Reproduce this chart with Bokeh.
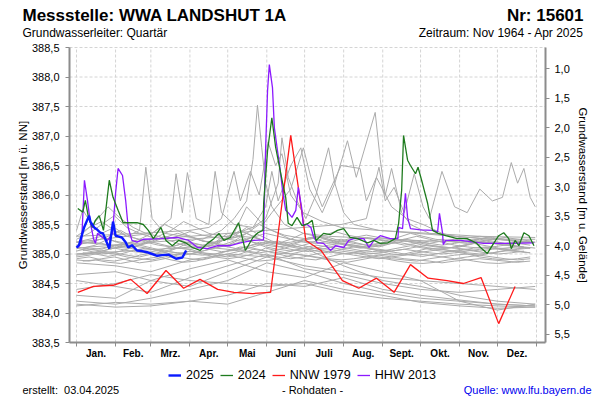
from bokeh.plotting import figure
from bokeh.models import (Range1d, LinearAxis, FixedTicker, CustomJSTickFormatter,
                          Legend, LegendItem, Label)
from bokeh.embed import file_html
from bokeh.resources import INLINE

FONT = "Liberation Sans"

# ---------------- data ----------------
month_bounds = [0, 31, 59, 90, 120, 151, 181, 212, 243, 273, 304, 334, 365]
month_labels = ["Jan.", "Feb.", "Mrz.", "Apr.", "Mai", "Juni", "Juli", "Aug.",
                "Sept.", "Okt.", "Nov.", "Dez."]
left_ticks = [383.5, 384.0, 384.5, 385.0, 385.5, 386.0, 386.5, 387.0, 387.5, 388.0, 388.5]
right_ticks = [1.0, 1.5, 2.0, 2.5, 3.0, 3.5, 4.0, 4.5, 5.0, 5.5]
y_min, y_max = 383.5, 388.5
gelaende = 389.14  # ground level (m ü. NN)

title_left = "Messstelle: WWA LANDSHUT 1A"
title_right = "Nr: 15601"
sub_left = "Grundwasserleiter: Quartär"
sub_right = "Zeitraum: Nov 1964 - Apr 2025"
foot_left = "erstellt:\u00a0 03.04.2025"
foot_mid = "- Rohdaten -"
foot_right = "Quelle: www.lfu.bayern.de"

# 2025
d2025 = [0, 2, 6, 10, 11, 14, 16, 19, 21, 23, 26, 29, 31, 33, 36, 39, 41, 44, 48, 52,
         56, 60, 64, 68, 73, 79, 84, 87]
v2025 = [385.11, 385.15, 385.45, 385.65, 385.55, 385.45, 385.42, 385.36, 385.35, 385.25,
         385.09, 385.55, 385.31, 385.30, 385.28, 385.20, 385.11, 385.15, 385.06, 385.05,
         385.03, 385.00, 384.97, 384.98, 384.99, 384.92, 384.94, 385.06]

# 2024
d2024 = [1, 5, 7, 9.5, 12.7, 15, 18, 21.4, 26, 29, 33, 37, 43, 48, 53, 57, 61, 67, 71, 76,
         81, 86.5, 92, 98, 104, 109, 113, 117, 122, 128.6, 134, 140, 144, 148, 148.5, 151.6,
         155, 158, 160, 163.5, 166, 168, 171, 175, 179, 184, 187, 190, 196, 201.6, 207, 212,
         217, 223, 231, 236, 241, 247, 253, 255.6, 258, 259.5, 262.7, 265, 269, 271, 274.6,
         278.6, 282.5, 287, 293, 302, 310, 317, 320.6, 326, 331, 335, 339, 343, 345, 348,
         351, 355, 359, 363]
v2024 = [385.77, 385.71, 385.91, 385.62, 385.45, 385.57, 385.65, 385.40, 386.25, 385.96,
         385.74, 385.53, 385.53, 385.53, 385.50, 385.40, 385.26, 385.45, 385.23, 385.14,
         385.23, 385.19, 385.11, 385.06, 385.18, 385.26, 385.35, 385.23, 385.28, 385.53,
         385.06, 385.28, 385.36, 385.40, 385.86, 386.75, 387.31, 386.81, 386.59, 386.21,
         385.96, 385.52, 385.48, 385.62, 385.48, 385.52, 385.57, 385.23, 385.35, 385.33,
         385.40, 385.43, 385.28, 385.26, 385.19, 385.23, 385.18, 385.19, 385.26, 385.52,
         386.08, 387.01, 386.59, 386.50, 386.36, 386.47, 386.19, 385.86, 385.40, 385.35,
         385.31, 385.26, 385.26, 385.19, 385.11, 385.01, 385.18, 385.31, 385.36, 385.26,
         385.09, 385.23, 385.14, 385.36, 385.31, 385.14]

# HHW 2013
d2013 = [1, 4, 6.3, 8.7, 11, 13.5, 15, 16.7, 20.6, 24.6, 28.6, 31, 33, 36.5, 39, 41, 44,
         48, 53, 67, 80, 89, 96, 104, 112, 122, 130, 140, 148.4, 150, 151.6, 153, 155.5,
         157, 159.5, 161, 163.5, 166, 168, 171, 174, 176, 178.6, 180, 183, 186, 188, 191,
         196, 201.6, 205.5, 212, 216, 220, 228, 232, 236, 241, 249, 255, 255.6, 258.7, 261,
         262.7, 265, 273, 283, 286.5, 288, 290.5, 291, 293, 305, 323, 342, 363]
v2013 = [385.11, 385.18, 386.25, 385.91, 385.53, 385.26, 385.18, 385.35, 385.28, 385.23,
         385.35, 386.03, 386.45, 386.33, 385.91, 385.45, 385.23, 385.20, 385.25, 385.26,
         385.28, 385.23, 385.11, 385.09, 385.14, 385.14, 385.19, 385.23, 385.24, 386.75,
         387.77, 388.21, 387.82, 387.14, 386.75, 386.53, 386.08, 385.74, 385.70, 385.62,
         385.74, 386.13, 385.79, 385.48, 385.50, 385.45, 385.30, 385.19, 385.18, 385.06,
         385.14, 385.11, 385.23, 385.26, 385.26, 385.11, 385.23, 385.31, 385.26, 385.26,
         385.45, 385.43, 386.03, 385.62, 385.43, 385.41, 385.40, 385.37, 385.69, 385.35,
         385.16, 385.23, 385.23, 385.18, 385.18, 385.19]

# NNW 1979
d1979 = [1, 13.5, 29, 43, 56, 71, 85, 98, 112, 125, 140, 154, 170, 176, 182, 194, 211,
         224, 238, 252, 265, 279, 294, 307, 321, 335, 348]
v1979 = [384.35, 384.45, 384.47, 384.57, 384.33, 384.72, 384.42, 384.57, 384.40, 384.35,
         384.33, 384.35, 387.01, 386.13, 385.23, 385.06, 384.55, 384.42, 384.59, 384.35,
         384.82, 384.59, 384.55, 384.50, 384.60, 383.82, 384.45]

# --- other years (grey) ---
grid_month = [0, 31, 59, 90, 120, 151, 181, 212, 243, 273, 304, 334, 364]
low_a = [384.20, 384.15, 384.25, 384.40, 384.55, 384.85, 384.70, 384.50, 384.35, 384.25, 384.20, 384.15, 384.12]
low_b = [384.12, 384.18, 384.15, 384.20, 384.30, 384.50, 384.45, 384.60, 384.40, 384.30, 384.22, 384.15, 384.12]
low_c = [384.30, 384.25, 384.55, 384.45, 384.70, 384.95, 385.10, 384.80, 384.55, 384.45, 384.30, 384.20, 384.15]
low_d = [384.55, 384.45, 384.35, 384.60, 384.80, 385.00, 384.75, 384.65, 384.50, 384.40, 384.35, 384.40, 384.45]
low_e = [384.15, 384.10, 384.12, 384.20, 384.15, 384.35, 384.55, 384.40, 384.30, 384.18, 384.12, 384.08, 384.10]
low_f = [384.65, 384.70, 384.55, 384.75, 384.90, 384.70, 384.60, 384.85, 384.70, 384.55, 384.50, 384.45, 384.40]
low_g = [384.40, 384.50, 384.65, 384.55, 384.50, 384.45, 384.50, 384.35, 384.25, 384.20, 384.15, 384.12, 384.10]
low_h = [384.85, 384.80, 384.70, 384.90, 385.00, 384.95, 384.80, 384.70, 384.60, 384.55, 384.20, 384.05, 384.15]

grid_10 = [0, 10, 20, 30, 40, 50, 60, 70, 80, 90, 100, 110, 120, 130, 140, 150, 160, 170,
           180, 190, 200, 210, 220, 230, 240, 250, 260, 270, 280, 290, 300, 310, 320, 330,
           340, 350, 360]
band_a = [385.05, 385.10, 385.08, 385.15, 385.12, 385.05, 385.00, 385.02, 385.10, 385.20, 385.15, 385.10, 385.08, 385.05, 385.12, 385.18, 385.22, 385.15, 385.10, 385.05, 385.02, 385.08, 385.12, 385.10, 385.05, 385.00, 384.98, 385.02, 385.05, 385.08, 385.04, 385.00, 384.98, 385.02, 385.06, 385.04, 385.02]
band_b = [385.20, 385.25, 385.30, 385.22, 385.18, 385.15, 385.20, 385.28, 385.35, 385.30, 385.22, 385.18, 385.15, 385.20, 385.30, 385.45, 385.35, 385.25, 385.20, 385.18, 385.22, 385.25, 385.20, 385.15, 385.12, 385.18, 385.22, 385.20, 385.15, 385.12, 385.10, 385.15, 385.20, 385.18, 385.15, 385.12, 385.10]
band_c = [384.95, 384.98, 385.02, 385.00, 384.95, 384.92, 384.90, 384.95, 385.00, 385.05, 385.02, 384.98, 384.95, 385.00, 385.08, 385.05, 385.00, 384.95, 384.92, 384.90, 384.95, 385.00, 385.02, 384.98, 384.95, 384.92, 384.90, 384.88, 384.92, 384.95, 384.98, 385.00, 384.95, 384.92, 384.90, 384.92, 384.95]
band_d = [385.30, 385.45, 385.55, 385.40, 385.30, 385.25, 385.35, 385.50, 385.40, 385.30, 385.22, 385.20, 385.25, 385.30, 385.28, 385.22, 385.18, 385.25, 385.35, 385.30, 385.25, 385.20, 385.22, 385.28, 385.25, 385.20, 385.15, 385.18, 385.22, 385.25, 385.20, 385.18, 385.22, 385.25, 385.28, 385.25, 385.22]
band_e = [385.10, 385.05, 385.00, 385.02, 385.08, 385.15, 385.10, 385.05, 385.02, 385.00, 385.05, 385.10, 385.15, 385.25, 385.20, 385.12, 385.08, 385.05, 385.10, 385.15, 385.12, 385.08, 385.05, 385.02, 385.00, 384.98, 385.00, 385.05, 385.10, 385.08, 385.05, 385.02, 385.00, 385.02, 385.05, 385.08, 385.10]
band_f = [384.90, 384.88, 384.92, 384.95, 384.90, 384.85, 384.88, 384.92, 384.98, 385.05, 385.00, 384.95, 384.92, 384.95, 385.00, 385.10, 385.05, 385.00, 384.98, 384.95, 384.92, 384.90, 384.92, 384.95, 384.98, 384.95, 384.92, 384.90, 384.88, 384.85, 384.88, 384.90, 384.92, 384.90, 384.88, 384.86, 384.88]
band_g = [385.15, 385.20, 385.18, 385.12, 385.10, 385.15, 385.22, 385.30, 385.25, 385.18, 385.15, 385.20, 385.28, 385.40, 385.30, 385.22, 385.18, 385.20, 385.25, 385.30, 385.28, 385.22, 385.18, 385.15, 385.18, 385.22, 385.25, 385.22, 385.18, 385.15, 385.18, 385.22, 385.25, 385.22, 385.18, 385.20, 385.22]
band_h = [385.00, 385.02, 385.05, 385.10, 385.15, 385.12, 385.08, 385.05, 385.02, 385.00, 384.98, 385.00, 385.05, 385.10, 385.15, 385.20, 385.18, 385.12, 385.08, 385.10, 385.15, 385.18, 385.15, 385.10, 385.08, 385.05, 385.08, 385.12, 385.15, 385.12, 385.10, 385.08, 385.05, 385.08, 385.10, 385.12, 385.10]
band_i = [385.25, 385.35, 385.50, 385.65, 385.45, 385.35, 385.28, 385.25, 385.30, 385.38, 385.32, 385.28, 385.25, 385.22, 385.28, 385.35, 385.30, 385.25, 385.22, 385.20, 385.18, 385.22, 385.28, 385.32, 385.28, 385.25, 385.22, 385.20, 385.18, 385.22, 385.25, 385.28, 385.30, 385.28, 385.25, 385.22, 385.20]
band_j = [384.98, 385.00, 385.05, 385.02, 384.98, 384.95, 385.00, 385.05, 385.10, 385.08, 385.02, 385.00, 385.05, 385.12, 385.10, 385.05, 385.02, 385.00, 385.05, 385.10, 385.08, 385.05, 385.02, 385.00, 385.02, 385.05, 385.08, 385.05, 385.02, 385.00, 385.02, 385.05, 385.08, 385.10, 385.08, 385.05, 385.02]
band_k = [385.12, 385.08, 385.05, 385.10, 385.18, 385.25, 385.20, 385.15, 385.10, 385.08, 385.12, 385.20, 385.35, 385.30, 385.20, 385.15, 385.12, 385.15, 385.22, 385.30, 385.25, 385.18, 385.15, 385.12, 385.15, 385.20, 385.25, 385.30, 385.25, 385.20, 385.15, 385.12, 385.10, 385.12, 385.15, 385.18, 385.15]
band_l = [384.92, 384.95, 384.90, 384.88, 384.92, 384.98, 385.02, 384.98, 384.95, 384.92, 384.90, 384.95, 385.00, 385.05, 385.02, 384.98, 384.95, 384.92, 384.95, 385.00, 385.05, 385.02, 384.98, 384.95, 384.92, 384.95, 384.98, 385.00, 384.98, 384.95, 384.92, 384.95, 384.98, 384.95, 384.92, 384.90, 384.92]

grid_5 = [5, 15, 25, 35, 45, 55, 65, 75, 85, 95, 105, 115, 125, 135, 145, 155, 165, 175,
          185, 195, 205, 215, 225, 235, 245, 255, 265, 275, 285, 295, 305, 315, 325, 335,
          345, 355]
band_m = [385.18, 385.22, 385.30, 385.40, 385.28, 385.20, 385.15, 385.12, 385.18, 385.25, 385.20, 385.15, 385.22, 385.35, 385.25, 385.18, 385.15, 385.20, 385.28, 385.22, 385.18, 385.15, 385.12, 385.15, 385.20, 385.25, 385.20, 385.15, 385.12, 385.10, 385.14, 385.18, 385.22, 385.18, 385.15, 385.12]
band_n = [385.02, 385.00, 384.96, 385.00, 385.06, 385.10, 385.05, 385.00, 384.98, 385.02, 385.08, 385.14, 385.10, 385.05, 385.02, 385.05, 385.10, 385.16, 385.12, 385.06, 385.02, 385.00, 385.04, 385.08, 385.05, 385.02, 384.98, 384.96, 385.00, 385.04, 385.08, 385.05, 385.02, 385.00, 385.02, 385.05]
band_o = [385.35, 385.55, 385.80, 385.60, 385.45, 385.35, 385.30, 385.40, 385.55, 385.45, 385.35, 385.30, 385.28, 385.35, 385.50, 385.40, 385.32, 385.28, 385.25, 385.30, 385.38, 385.32, 385.28, 385.25, 385.22, 385.28, 385.35, 385.30, 385.25, 385.22, 385.20, 385.24, 385.28, 385.25, 385.22, 385.20]
band_p = [384.88, 384.90, 384.86, 384.84, 384.88, 384.92, 384.95, 384.90, 384.86, 384.88, 384.94, 385.00, 384.96, 384.92, 384.88, 384.90, 384.95, 385.00, 384.96, 384.92, 384.88, 384.86, 384.90, 384.94, 384.92, 384.88, 384.85, 384.84, 384.86, 384.90, 384.92, 384.88, 384.85, 384.84, 384.86, 384.88]
band_q = [385.10, 385.15, 385.25, 385.18, 385.12, 385.20, 385.30, 385.22, 385.15, 385.10, 385.14, 385.22, 385.30, 385.45, 385.32, 385.22, 385.16, 385.12, 385.18, 385.26, 385.20, 385.14, 385.10, 385.12, 385.16, 385.20, 385.16, 385.12, 385.08, 385.10, 385.14, 385.18, 385.14, 385.10, 385.08, 385.10]
band_r = [385.06, 385.08, 385.12, 385.08, 385.04, 385.02, 385.06, 385.12, 385.18, 385.14, 385.08, 385.04, 385.06, 385.12, 385.20, 385.16, 385.10, 385.06, 385.04, 385.08, 385.14, 385.10, 385.06, 385.04, 385.06, 385.10, 385.14, 385.10, 385.06, 385.04, 385.06, 385.10, 385.12, 385.08, 385.06, 385.04]

spike_a_d = [0, 5, 12, 20, 30, 40, 50, 55, 60, 70, 85, 100, 115, 125, 135, 140, 143.6, 147, 150, 155, 165, 180, 200, 220, 250, 280, 310, 340, 364]
spike_a_v = [385.40, 385.75, 385.50, 385.35, 385.45, 385.30, 385.40, 386.47, 385.60, 385.35, 385.30, 385.25, 385.40, 385.60, 385.90, 386.60, 387.52, 386.80, 386.20, 385.80, 385.50, 385.35, 385.30, 385.28, 385.25, 385.22, 385.20, 385.18, 385.20]
spike_b_d = [0, 20, 40, 60, 75, 79, 84, 88, 95, 105, 110, 115, 125, 140, 150, 160, 163, 168, 175, 182, 190, 200, 205, 212, 220, 240, 270, 300, 330, 364]
spike_b_v = [385.20, 385.25, 385.30, 385.35, 385.60, 386.36, 385.70, 386.38, 385.60, 385.50, 386.40, 385.70, 385.50, 385.45, 385.60, 386.20, 386.97, 386.30, 385.90, 385.60, 386.00, 386.80, 386.20, 385.70, 385.50, 385.40, 385.35, 385.30, 385.25, 385.25]
spike_c_d = [0, 30, 60, 90, 120, 140, 150, 155, 160, 170, 178, 185, 195, 205, 215, 222, 237, 241, 245, 250, 258, 265, 280, 300, 330, 364]
spike_c_v = [385.10, 385.15, 385.20, 385.25, 385.30, 385.45, 385.80, 386.40, 385.90, 386.50, 386.80, 386.10, 385.70, 386.20, 386.92, 386.30, 387.40, 386.60, 386.00, 386.45, 385.70, 385.50, 385.35, 385.30, 385.25, 385.20]
spike_d_d = [0, 30, 60, 90, 120, 150, 180, 210, 230, 240, 245, 252, 260, 268, 275, 280, 290, 300, 310, 320, 330, 338, 345, 350, 355, 360, 364]
spike_d_v = [385.20, 385.15, 385.25, 385.30, 385.35, 385.40, 385.45, 385.50, 385.60, 386.47, 385.90, 386.13, 385.70, 386.36, 385.80, 385.60, 386.40, 385.80, 385.70, 386.10, 385.90, 385.96, 386.55, 386.20, 386.45, 385.96, 385.80]
spike_e_d = [0, 40, 80, 110, 125, 135, 148, 155, 170, 180, 186, 195, 210, 225, 230, 238, 250, 262, 275, 290, 310, 340, 364]
spike_e_v = [385.00, 385.05, 385.10, 385.15, 385.35, 385.80, 385.50, 385.70, 386.10, 386.80, 386.30, 385.80, 386.50, 386.45, 385.90, 386.30, 385.80, 385.60, 385.50, 385.35, 385.25, 385.15, 385.10]
spike_f_d = [0, 50, 90, 105, 115, 125, 130, 138, 145, 152, 158, 163, 170, 180, 195, 210, 240, 280, 320, 364]
spike_f_v = [385.30, 385.35, 385.40, 385.45, 385.60, 386.40, 385.90, 386.40, 386.00, 386.90, 386.50, 386.70, 386.00, 385.70, 385.55, 385.45, 385.40, 385.35, 385.30, 385.28]

# ---------------- layout geometry (pixels) ----------------
W, H = 600, 400
AREA_L, AREA_R, AREA_T, AREA_B = 69, 545, 47, 342   # plot area inside the canvas
JAN1_PX, DEC31_PX = 76, 536                          # day 0 / day 365 positions
px_per_day = (DEC31_PX - JAN1_PX) / 365.0
px_per_m = (AREA_B - AREA_T) / (y_max - y_min)
x_start = -JAN1_PX / px_per_day
x_end = x_start + W / px_per_day
y_top = y_max + AREA_T / px_per_m
y_bot = y_top - H / px_per_m
x_left = x_start + AREA_L / px_per_day
x_right = x_start + AREA_R / px_per_day

p = figure(width=W, height=H, output_backend="svg", toolbar_location=None,
           x_range=Range1d(x_start, x_end), y_range=Range1d(y_bot, y_top),
           x_axis_location=None, y_axis_location=None,
           min_border=0, min_border_left=0, min_border_right=0,
           min_border_top=0, min_border_bottom=0)
p.outline_line_color = None
p.background_fill_color = "white"
p.border_fill_color = "white"
p.grid.visible = False

p.extra_y_ranges = {"gel": Range1d(start=gelaende - y_bot, end=gelaende - y_top)}
comma_fmt = CustomJSTickFormatter(code="return tick.toFixed(1).replace('.', ',');")
AX_COL = "#8c8c8c"
GRID_COL = "#d4d4d4"

# grid lines (dashed) limited to the plot area
p.segment(x0=month_bounds, y0=y_min, x1=month_bounds, y1=y_max,
          line_color=GRID_COL, line_dash="3 2", line_width=1)
p.segment(x0=x_left, y0=left_ticks, x1=x_right, y1=left_ticks,
          line_color=GRID_COL, line_dash="3 2", line_width=1)

# axes fixed at the plot-area edges
ya = LinearAxis(fixed_location=x_left, bounds=(y_min, y_max),
                axis_label="Grundwasserstand [m ü. NN]")
ya.ticker = FixedTicker(ticks=left_ticks, minor_ticks=[])
ya.formatter = comma_fmt
ya.major_label_standoff = 6
ya.axis_label_standoff = 0

ra = LinearAxis(y_range_name="gel", fixed_location=x_right,
                bounds=(gelaende - y_max, gelaende - y_min),
                axis_label="Grundwasserstand [m u. Gelände]")
ra.ticker = FixedTicker(ticks=right_ticks, minor_ticks=[])
ra.formatter = comma_fmt
ra.major_label_standoff = 5
ra.axis_label_standoff = 4

xa = LinearAxis(fixed_location=y_min, bounds=(x_left, x_right))
mids = [(month_bounds[i] + month_bounds[i + 1]) / 2 for i in range(12)]
xa.ticker = FixedTicker(ticks=mids, minor_ticks=month_bounds)
xa.major_label_overrides = {m: lab for m, lab in zip(mids, month_labels)}
xa.minor_tick_in = 0
xa.minor_tick_out = 4
xa.minor_tick_line_color = AX_COL
xa.major_tick_line_color = None
xa.major_tick_in = 0
xa.major_tick_out = 4
xa.major_label_text_font_style = "bold"
xa.major_label_text_font_size = "10px"
xa.major_label_standoff = 1

for ax in (ya, ra):
    ax.major_tick_in = 0
    ax.major_tick_out = 4
    ax.major_tick_line_color = AX_COL
    ax.minor_tick_line_color = None
    ax.major_label_text_font_size = "11px"
for ax in (ya, ra, xa):
    ax.axis_line_color = AX_COL
    ax.axis_line_width = 2
    ax.major_label_text_font = FONT
    ax.major_label_text_color = "black"
    ax.axis_label_text_font = FONT
    ax.axis_label_text_font_style = "normal"
    ax.axis_label_text_font_size = "11.5px"
    ax.axis_label_text_color = "black"

p.add_layout(ya, "left")
p.add_layout(ra, "right")
p.add_layout(xa, "below")

# grey lines (other years)
GREY = "#ababab"
for vals in (low_a, low_b, low_c, low_d, low_e, low_f, low_g, low_h):
    p.line(grid_month, vals, line_color=GREY, line_width=1)
for vals in (band_a, band_b, band_c, band_d, band_e, band_f, band_g, band_h, band_i,
             band_j, band_k, band_l):
    p.line(grid_10, vals, line_color=GREY, line_width=1)
for vals in (band_m, band_n, band_o, band_p, band_q, band_r):
    p.line(grid_5, vals, line_color=GREY, line_width=1)
for dd, vv in ((spike_a_d, spike_a_v), (spike_b_d, spike_b_v), (spike_c_d, spike_c_v),
               (spike_d_d, spike_d_v), (spike_e_d, spike_e_v), (spike_f_d, spike_f_v)):
    p.line(dd, vv, line_color=GREY, line_width=1)

COL_1979, COL_2013, COL_2024, COL_2025 = "#ff1a1a", "#8c1aff", "#1e7b1e", "#0a1aff"
r_red = p.line(d1979, v1979, line_color=COL_1979, line_width=1.3)
r_pur = p.line(d2013, v2013, line_color=COL_2013, line_width=1.3)
r_grn = p.line(d2024, v2024, line_color=COL_2024, line_width=1.3)
r_blu = p.line(d2025, v2025, line_color=COL_2025, line_width=2.4)

legend = Legend(items=[LegendItem(label="2025", renderers=[r_blu]),
                       LegendItem(label="2024", renderers=[r_grn]),
                       LegendItem(label="NNW 1979", renderers=[r_red]),
                       LegendItem(label="HHW 2013", renderers=[r_pur])],
                orientation="horizontal", location=(168, 18),
                glyph_width=13, glyph_height=14, label_height=14, label_standoff=5,
                spacing=6, padding=0, margin=0, border_line_color=None,
                background_fill_alpha=0, label_text_font=FONT,
                label_text_font_size="12.5px", label_text_color="black")
p.add_layout(legend)


def lab(x, y, text, size, align="left", bold=False, color="black"):
    # x, y: canvas pixels from the bottom-left corner
    p.add_layout(Label(x=x, y=y, x_units="screen", y_units="screen", text=text,
                       text_font=FONT, text_font_size=size, text_align=align,
                       text_baseline="alphabetic", text_color=color,
                       text_font_style="bold" if bold else "normal"))


lab(22, 385, title_left, "17px", bold=True)
lab(583, 385, title_right, "17px", align="right", bold=True)
lab(22, 368, sub_left, "12px")
lab(583, 368, sub_right, "12px", align="right")
lab(22, 11, foot_left, "11px")
lab(312, 11, foot_mid, "11px", align="center")
lab(591, 11, foot_right, "11px", align="right", color="#0000ee")

open("out.html", "w").write(file_html(p, INLINE))
